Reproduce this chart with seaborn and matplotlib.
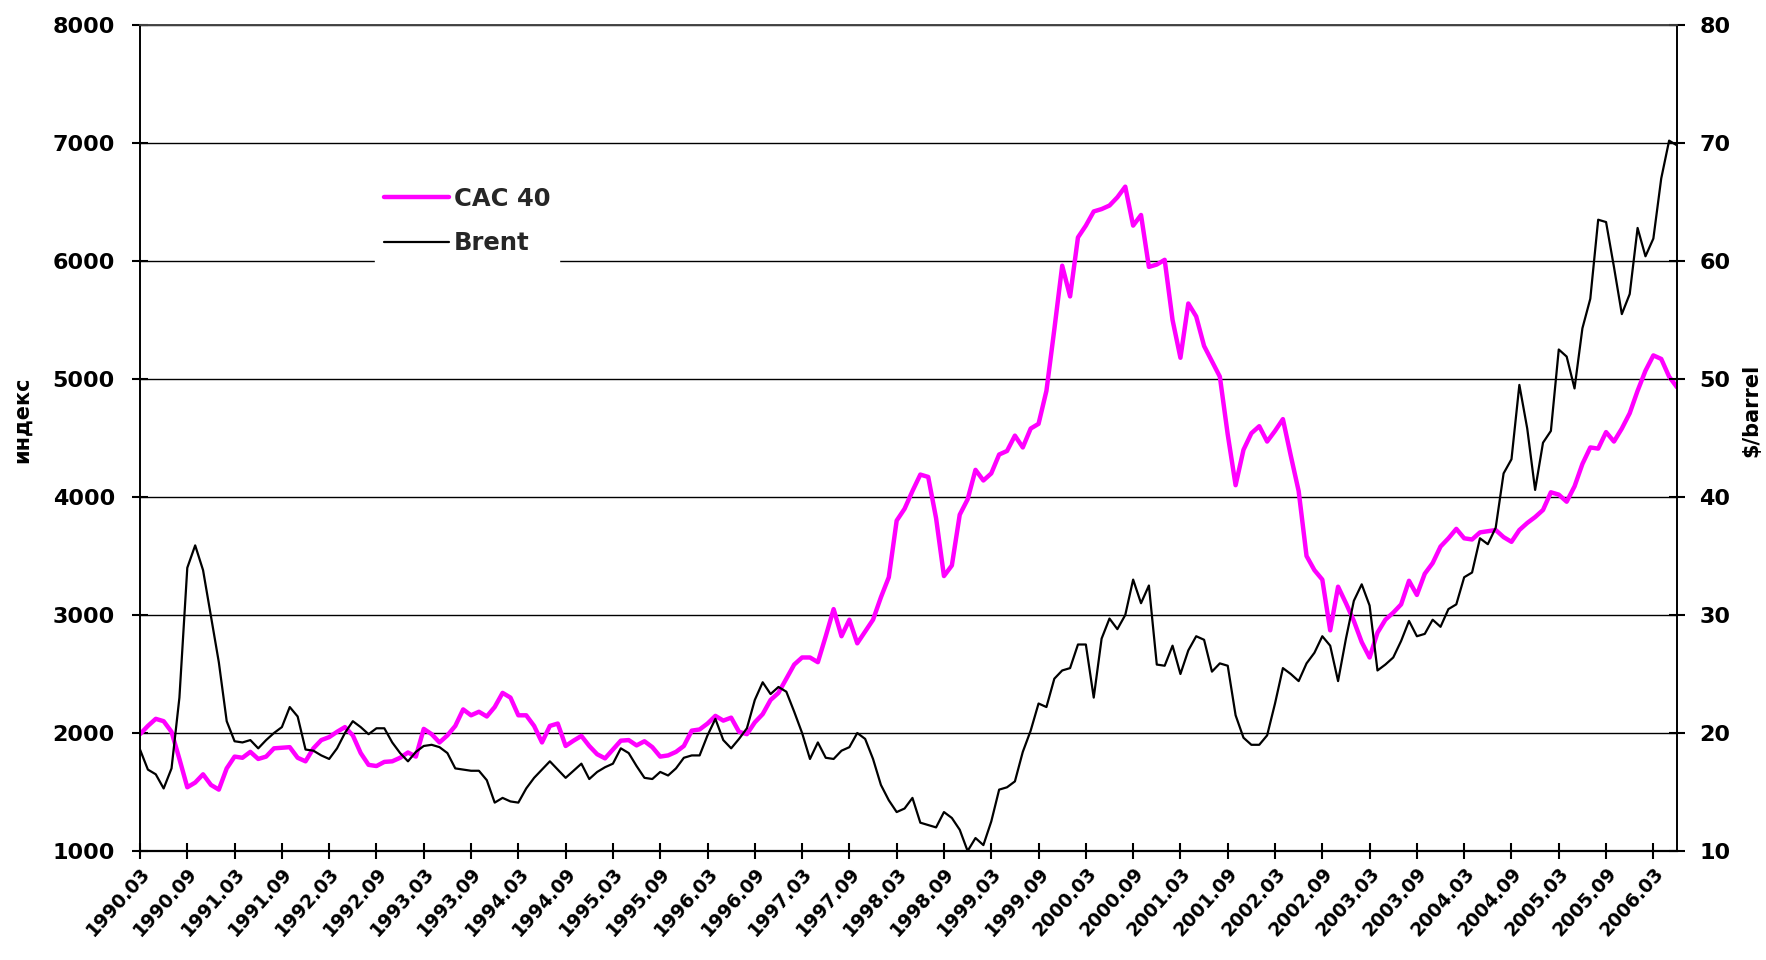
import numpy as np
import pandas as pd
import matplotlib
matplotlib.use("Agg")
import matplotlib.pyplot as plt
import seaborn as sns

# Monthly values, 1990.03 ... 2006.06
cac40 = [
    1990, 2060, 2120, 2100, 2010, 1780, 1540, 1580, 1650, 1560, 1520, 1700,
    1800, 1790, 1840, 1780, 1800, 1870, 1875, 1880, 1790, 1760, 1870, 1940,
    1965, 2010, 2050, 1980, 1830, 1730, 1720, 1755, 1760, 1790, 1835, 1800,
    2035, 1990, 1920, 1980, 2060, 2200, 2150, 2180, 2140, 2220, 2340, 2300,
    2150, 2150, 2060, 1920, 2060, 2080, 1890, 1935, 1975, 1890, 1820, 1785,
    1860, 1935, 1940, 1895, 1930, 1880, 1800, 1810, 1840, 1890, 2020, 2030,
    2080, 2145, 2105, 2130, 2010, 1990, 2090, 2160, 2280, 2340, 2460, 2580,
    2640, 2640, 2600, 2820, 3050, 2820, 2960, 2760, 2860, 2960, 3150, 3320,
    3800, 3900, 4050, 4190, 4170, 3820, 3330, 3420, 3850, 3980, 4230, 4140,
    4200, 4360, 4390, 4520, 4420, 4580, 4620, 4900, 5420, 5960, 5700, 6200,
    6300, 6420, 6440, 6470, 6540, 6630, 6300, 6390, 5950, 5970, 6010, 5500,
    5180, 5640, 5530, 5280, 5150, 5020, 4530, 4100, 4400, 4540, 4600, 4470,
    4560, 4660, 4350, 4050, 3500, 3380, 3300, 2870, 3240, 3100, 2950, 2770,
    2640, 2850, 2960, 3020, 3090, 3290, 3170, 3350, 3440, 3580, 3650, 3730,
    3650, 3640, 3700, 3710, 3720, 3660, 3620, 3720, 3780, 3830, 3890, 4040,
    4020, 3960, 4090, 4280, 4420, 4410, 4550, 4470, 4580, 4710, 4900, 5070,
    5200, 5170, 5020, 4930,
]

brent = [
    18.6, 16.9, 16.5, 15.3, 17.0, 23.0, 34.0, 35.9, 33.8, 29.9, 26.0, 21.0,
    19.3, 19.2, 19.4, 18.7, 19.4, 20.0, 20.5, 22.2, 21.4, 18.6, 18.5, 18.1,
    17.8, 18.7, 20.0, 21.0, 20.5, 19.9, 20.4, 20.4, 19.2, 18.3, 17.6, 18.4,
    18.9, 19.0, 18.8, 18.3, 17.0, 16.9, 16.8, 16.8, 16.0, 14.1, 14.5, 14.2,
    14.1, 15.3, 16.2, 16.9, 17.6, 16.9, 16.2, 16.8, 17.4, 16.1, 16.7, 17.1,
    17.4, 18.7, 18.3, 17.2, 16.2, 16.1, 16.7, 16.4, 17.0, 17.9, 18.1, 18.1,
    19.8, 21.2, 19.4, 18.7, 19.5, 20.4, 22.8, 24.3, 23.3, 23.9, 23.5, 21.8,
    20.0, 17.8, 19.2, 17.9, 17.8, 18.5, 18.8, 20.0, 19.5, 17.8, 15.6, 14.3,
    13.3, 13.6, 14.5, 12.4, 12.2, 12.0, 13.3, 12.8, 11.8, 10.0, 11.1, 10.5,
    12.5, 15.2, 15.4, 15.9, 18.4, 20.2, 22.5, 22.2, 24.6, 25.3, 25.5, 27.5,
    27.5, 23.0, 28.0, 29.7, 28.8, 30.0, 33.0, 31.0, 32.5, 25.8, 25.7, 27.4,
    25.0, 27.0, 28.2, 27.9, 25.2, 25.9, 25.7, 21.5, 19.6, 19.0, 19.0, 19.8,
    22.5, 25.5, 25.0, 24.4, 25.9, 26.8, 28.2, 27.4, 24.4, 28.0, 31.2, 32.6,
    30.8, 25.3, 25.8, 26.4, 27.8, 29.5, 28.2, 28.4, 29.6, 29.0, 30.5, 30.9,
    33.2, 33.6, 36.5, 36.0, 37.4, 42.0, 43.2, 49.5, 45.8, 40.6, 44.6, 45.6,
    52.5, 51.9, 49.2, 54.3, 56.8, 63.5, 63.3, 59.5, 55.5, 57.2, 62.8, 60.4,
    61.9, 67.0, 70.2, 69.8,
]

tick_labels = [
    "1990.03", "1990.09", "1991.03", "1991.09", "1992.03", "1992.09",
    "1993.03", "1993.09", "1994.03", "1994.09", "1995.03", "1995.09",
    "1996.03", "1996.09", "1997.03", "1997.09", "1998.03", "1998.09",
    "1999.03", "1999.09", "2000.03", "2000.09", "2001.03", "2001.09",
    "2002.03", "2002.09", "2003.03", "2003.09", "2004.03", "2004.09",
    "2005.03", "2005.09", "2006.03",
]
left_ticks = [1000, 2000, 3000, 4000, 5000, 6000, 7000, 8000]
right_ticks = [10, 20, 30, 40, 50, 60, 70, 80]

sns.set_theme(style="ticks")
plt.rcParams["font.family"] = ["DejaVu Sans"]
plt.rcParams["font.weight"] = "bold"

n = len(cac40)
df = pd.DataFrame({"month": np.arange(n), "CAC 40": cac40, "Brent": brent})
tick_pos = [6 * k for k in range(len(tick_labels))]

W, H = 1766, 960
fig = plt.figure(figsize=(W / 100, H / 100), dpi=100)
L, R, T, B = 140, 1677, 25, 851
ax = fig.add_axes([L / W, 1 - B / H, (R - L) / W, (B - T) / H])

sns.lineplot(data=df, x="month", y="CAC 40", ax=ax, color="#FF00FF",
             linewidth=3.2, label="CAC 40", legend=False)
ax2 = ax.twinx()
sns.lineplot(data=df, x="month", y="Brent", ax=ax2, color="black",
             linewidth=1.6, label="Brent", legend=False)

ax.set_xlim(0, n - 1)
ax.set_ylim(1000, 8000)
ax2.set_ylim(10, 80)
ax.set_yticks(left_ticks)
ax2.set_yticks(right_ticks)
ax.set_xticks(tick_pos)
ax.set_xticklabels(tick_labels, rotation=48, ha="right", rotation_mode="anchor",
                   fontsize=13.5, fontweight="bold")
ax.set_yticklabels([str(v) for v in left_ticks], fontsize=16, fontweight="bold")
ax2.set_yticklabels([str(v) for v in right_ticks], fontsize=16, fontweight="bold")

ax.grid(False)
ax2.grid(False)
ax.yaxis.grid(True, color="black", linewidth=1.0)

ax.tick_params(axis="y", which="major", direction="inout", length=12, width=1.5,
               pad=12, color="black", labelcolor="black", left=True, right=False)
ax.tick_params(axis="x", which="major", direction="inout", length=12, width=1.5,
               pad=3, color="black", labelcolor="black", bottom=True, top=False)
ax2.tick_params(axis="y", which="major", direction="inout", length=12, width=1.5,
                pad=10, color="black", labelcolor="black", right=True, left=False)

for a in (ax, ax2):
    for s in a.spines.values():
        s.set_visible(True)
        s.set_color("black")
        s.set_linewidth(1.2)
ax.spines["bottom"].set_linewidth(1.6)
ax.spines["top"].set_color("#444444")
ax2.spines["top"].set_color("#444444")

ax.set_xlabel("")
ax.set_ylabel("")
ax2.set_ylabel("")
fig.text(22 / W, 1 - 420 / H, "индекс", rotation=90, ha="center", va="center",
         fontsize=15, fontweight="bold", color="black")
fig.text(1751 / W, 1 - 410 / H, "$/barrel", rotation=90, ha="center", va="center",
         fontsize=15, fontweight="bold", color="black")

h1, l1 = ax.get_legend_handles_labels()
h2, l2 = ax2.get_legend_handles_labels()
leg = ax2.legend(h1 + h2, l1 + l2, loc="upper left",
                 bbox_to_anchor=(375 / W, 1 - 178 / H), bbox_transform=fig.transFigure,
                 frameon=True, fancybox=False, framealpha=1, facecolor="white",
                 edgecolor="white", borderpad=0.35, borderaxespad=0,
                 handlelength=2.7, handletextpad=0.2, labelspacing=0.85,
                 prop={"size": 17.5, "weight": "bold"})

fig.savefig("out.png", dpi=100, facecolor="white")
